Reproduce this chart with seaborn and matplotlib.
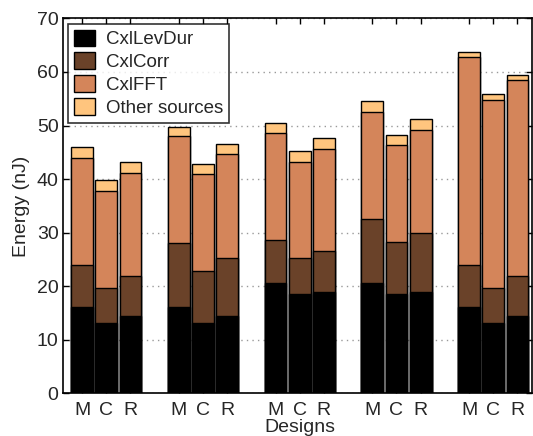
import numpy as np
import pandas as pd
import matplotlib
matplotlib.use("Agg")
import matplotlib.pyplot as plt
import seaborn as sns
from matplotlib.patches import Patch

designs = ["M", "C", "R"] * 5
positions = [1, 2, 3, 5, 6, 7, 9, 10, 11, 13, 14, 15, 17, 18, 19]

cxl_levdur = [16.1, 13.2, 14.5, 16.1, 13.2, 14.5, 20.6, 18.6, 19.0,
              20.6, 18.55, 19.0, 16.1, 13.2, 14.5]
cxl_corr = [7.9, 6.55, 7.4, 11.9, 9.7, 10.85, 8.05, 6.6, 7.5,
            12.0, 9.75, 10.9, 7.9, 6.55, 7.4]
cxl_fft = [20.0, 18.05, 19.3, 20.1, 18.0, 19.25, 19.95, 18.0, 19.1,
           19.9, 18.0, 19.2, 38.75, 35.05, 36.5]
other = [1.9, 2.05, 1.9, 1.7, 2.0, 1.9, 1.8, 2.1, 2.1,
         2.0, 2.0, 2.1, 0.95, 1.0, 1.0]

series_names = ["CxlLevDur", "CxlCorr", "CxlFFT", "Other sources"]
colors = ["#000000", "#6A4229", "#D4855A", "#FFC57E"]

sns.set_style("ticks")
plt.rcParams['font.family'] = ['Liberation Sans', 'DejaVu Sans']

df = pd.DataFrame({
    "pos": positions,
    "design": designs,
    "CxlLevDur": cxl_levdur,
    "CxlCorr": cxl_corr,
    "CxlFFT": cxl_fft,
    "Other sources": other,
})
cum = df[series_names].cumsum(axis=1)

fig = plt.figure(figsize=(5.33, 4.36), dpi=100)
ax = fig.add_axes([0.1176, 0.0975, 0.8804, 0.8605])

# draw from the top layer down so lower layers overlay
for name, col in reversed(list(zip(series_names, colors))):
    d = pd.DataFrame({"pos": df["pos"], "val": cum[name]})
    sns.barplot(data=d, x="pos", y="val", native_scale=True, width=0.9,
                color=col, saturation=1, edgecolor="black", linewidth=1.0,
                errorbar=None, ax=ax, zorder=3)

ax.set_xlim(0.2, 19.6)
ax.set_ylim(0, 70)
ax.set_yticks(np.arange(0, 71, 10))
ax.set_xticks(positions)
ax.set_xticklabels(designs)
ax.tick_params(axis="both", direction="in", length=4, width=1,
               labelsize=14, top=True, right=True, color="black")
ax.tick_params(axis="x", pad=6)
ax.tick_params(axis="y", pad=3)
ax.yaxis.grid(True, linestyle=(0, (1, 3)), color="#999999", linewidth=1, zorder=0)
ax.set_axisbelow(True)
for s in ax.spines.values():
    s.set_visible(True)
    s.set_linewidth(1.2)
    s.set_color("black")

ax.set_xlabel("Designs", fontsize=14)
ax.xaxis.set_label_coords(0.505, -0.068)
ax.set_ylabel("Energy (nJ)", fontsize=14, labelpad=5)

handles = [Patch(facecolor=c, edgecolor="black", linewidth=1, label=n)
           for n, c in zip(series_names, colors)]
leg = ax.legend(handles=handles, loc="upper left", fontsize=13.5,
                frameon=True, fancybox=False, edgecolor="black",
                handlelength=1.1, handleheight=1.0, handletextpad=0.6,
                borderpad=0.3, labelspacing=0.22, borderaxespad=0.3)
leg.get_frame().set_linewidth(1.2)
leg.set_zorder(10)

fig.savefig("out.png", dpi=100)
